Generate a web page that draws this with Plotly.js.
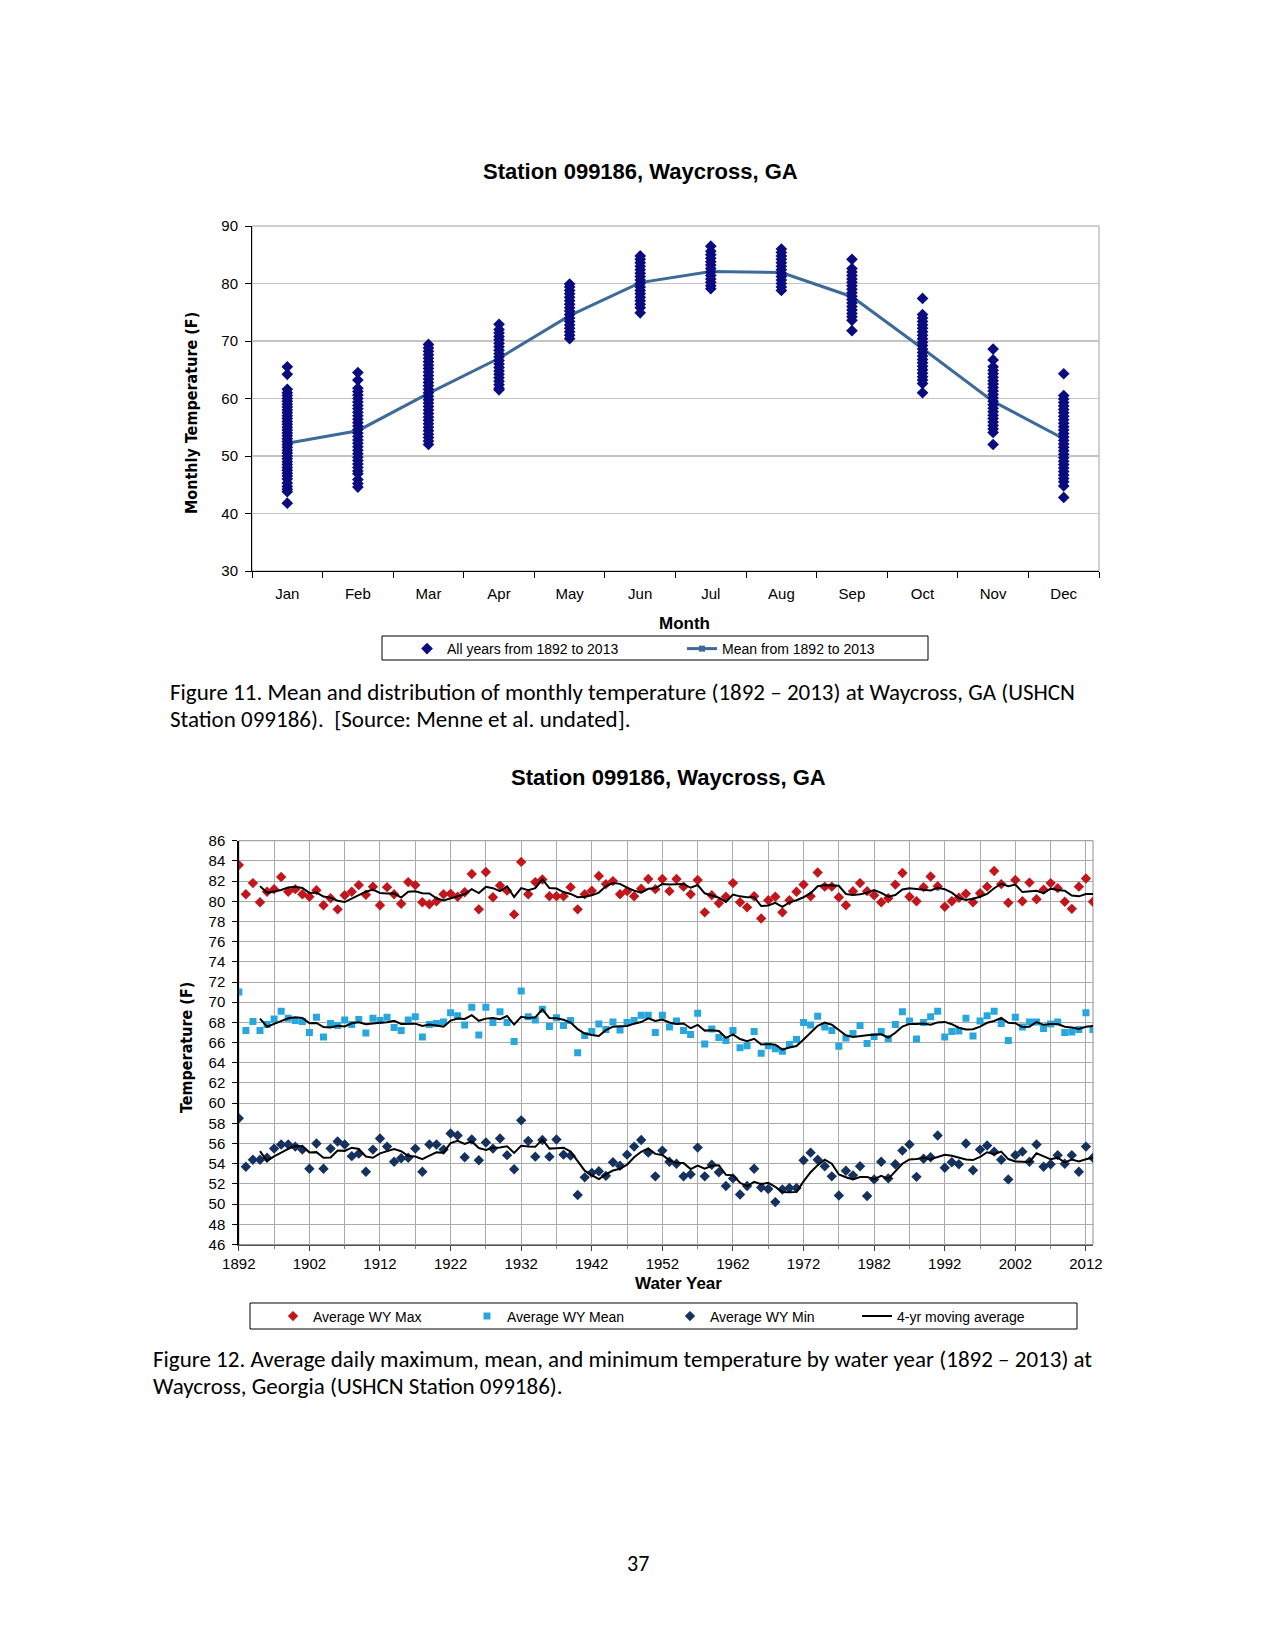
<!DOCTYPE html>
<html>
<head>
<meta charset="utf-8">
<script src="https://cdn.plot.ly/plotly-3.0.1.min.js"></script>
<style>
  html, body { margin:0; padding:0; background:#fff; }
  #page { width:1275px; height:1651px; }
</style>
</head>
<body>
<div id="page"></div>
<script>
// ---------------- Figure 11 data ----------------
const months = ["Jan","Feb","Mar","Apr","May","Jun","Jul","Aug","Sep","Oct","Nov","Dec"];
const monthlyMean = [52.2, 54.4, 60.9, 67.0, 74.4, 80.15, 82.1, 81.9, 77.7, 68.7, 59.5, 53.0];
const janVals = [65.5, 64.2, 61.6, 61.0, 60.5, 60.0, 59.5, 59.0, 58.5, 58.0, 57.5, 57.0, 56.5, 56.0, 55.5, 55.0, 54.5, 54.0, 53.5, 53.0, 52.5, 52.0, 51.5, 51.0, 50.5, 50.0, 49.5, 49.0, 48.5, 48.0, 47.5, 47.0, 46.5, 46.0, 45.3, 44.7, 44.2, 43.8, 41.8];
const febVals = [64.5, 63.2, 61.8, 61.2, 60.6, 60.0, 59.4, 58.8, 58.2, 57.6, 57.0, 56.4, 55.8, 55.2, 54.6, 54.0, 53.4, 52.8, 52.2, 51.6, 51.0, 50.4, 49.8, 49.2, 48.6, 48.0, 47.4, 46.9, 45.9, 45.2, 44.6];
const marVals = [69.4, 68.8, 68.2, 67.6, 67.0, 66.4, 65.8, 65.2, 64.6, 64.0, 63.4, 62.8, 62.2, 61.6, 61.0, 60.4, 59.8, 59.2, 58.6, 58.0, 57.4, 56.8, 56.2, 55.6, 55.0, 54.4, 53.8, 53.2, 52.6, 52.0];
const aprVals = [72.9, 72.0, 71.4, 70.8, 70.2, 69.6, 69.0, 68.4, 67.8, 67.2, 66.6, 66.0, 65.4, 64.8, 64.2, 63.6, 63.0, 62.4, 61.8, 61.5];
const mayVals = [79.9, 79.4, 78.8, 78.2, 77.6, 77.0, 76.4, 75.8, 75.2, 74.6, 74.0, 73.4, 72.8, 72.2, 71.6, 71.0, 70.4];
const junVals = [84.8, 84.2, 83.6, 83.0, 82.4, 81.8, 81.2, 80.6, 80.0, 79.4, 78.8, 78.2, 77.6, 77.0, 76.4, 75.8, 74.9];
const julVals = [86.5, 85.6, 85.0, 84.4, 83.8, 83.2, 82.6, 82.0, 81.4, 80.8, 80.2, 79.6, 79.1];
const augVals = [86.0, 85.4, 84.8, 84.2, 83.6, 83.0, 82.4, 81.8, 81.2, 80.6, 80.0, 79.4, 78.8];
const sepVals = [84.2, 82.6, 82.0, 81.4, 80.8, 80.2, 79.6, 79.0, 78.4, 77.8, 77.2, 76.6, 76.0, 75.4, 74.8, 74.2, 73.6, 71.8];
const octVals = [77.4, 74.6, 74.0, 73.4, 72.8, 72.2, 71.6, 71.0, 70.4, 69.8, 69.2, 68.6, 68.0, 67.4, 66.8, 66.2, 65.6, 65.0, 64.4, 63.8, 63.2, 62.6, 61.0];
const novVals = [68.6, 66.7, 65.5, 64.9, 64.3, 63.7, 63.1, 62.5, 61.9, 61.3, 60.7, 60.1, 59.5, 58.9, 58.3, 57.7, 57.1, 56.5, 55.9, 55.3, 54.7, 54.1, 52.0];
const decVals = [64.3, 60.5, 59.9, 59.3, 58.7, 58.1, 57.5, 56.9, 56.3, 55.7, 55.1, 54.5, 53.9, 53.3, 52.7, 52.1, 51.5, 50.9, 50.3, 49.7, 49.1, 48.5, 47.9, 47.3, 46.7, 46.1, 45.5, 44.8, 42.8];

// ---------------- Figure 12 data ----------------
const firstYear = 1892;
const wyMax = [
  83.6, 80.7, 81.8, 79.9, 80.95, 81.2, 82.4, 80.95, 81.2, 80.7,
  80.45, 81.1, 79.6, 80.3, 79.2, 80.6, 80.95, 81.6, 80.65, 81.45,
  79.6, 81.4, 80.7, 79.75, 81.9, 81.6, 79.9, 79.7, 80.0, 80.7,
  80.75, 80.45, 80.9, 82.7, 79.2, 82.9, 80.4, 81.55, 81.05, 78.7,
  83.9, 80.7, 81.9, 82.15, 80.5, 80.5, 80.5, 81.4, 79.2, 80.7,
  81.05, 82.5, 81.7, 82.0, 80.7, 81.0, 80.5, 81.25, 82.2, 81.2,
  82.2, 81.0, 82.2, 81.45, 80.7, 82.1, 78.9, 80.6, 79.8, 80.45,
  81.8, 79.9, 79.4, 80.5, 78.3, 80.1, 80.45, 78.9, 80.1, 80.95,
  81.65, 80.5, 82.85, 81.45, 81.45, 80.4, 79.6, 81.0, 81.8, 81.0,
  80.6, 79.9, 80.3, 81.65, 82.8, 80.45, 80.0, 81.4, 82.45, 81.5,
  79.45, 80.0, 80.35, 80.75, 79.9, 80.8, 81.45, 83.0, 81.7, 79.85,
  82.1, 80.0, 81.85, 80.2, 81.15, 81.8, 81.3, 79.95, 79.25, 81.45,
  82.25, 79.95];
const wyMean = [
  71.0, 67.2, 68.1, 67.2, 67.8, 68.35, 69.1, 68.4, 68.2, 68.1,
  67.0, 68.5, 66.55, 67.9, 67.7, 68.25, 67.8, 68.3, 66.95, 68.4,
  68.2, 68.5, 67.5, 67.2, 68.25, 68.55, 66.55, 67.8, 67.9, 68.05,
  68.95, 68.65, 67.75, 69.5, 66.75, 69.5, 68.0, 69.05, 68.0, 66.1,
  71.1, 68.55, 68.25, 69.3, 67.6, 68.45, 67.7, 68.2, 65.0, 66.7,
  67.1, 67.85, 67.3, 68.05, 67.25, 68.0, 68.2, 68.7, 68.7, 67.0,
  68.7, 67.55, 68.15, 67.2, 66.8, 68.9, 65.85, 67.35, 66.5, 66.2,
  67.2, 65.5, 65.7, 67.1, 64.95, 65.7, 65.4, 65.15, 65.8, 66.3,
  68.0, 67.75, 68.6, 67.55, 67.2, 65.65, 66.45, 66.9, 67.7, 65.9,
  66.6, 67.1, 66.4, 67.8, 69.05, 68.15, 66.35, 68.0, 68.55, 69.1,
  66.55, 67.1, 67.15, 68.4, 66.65, 68.15, 68.65, 69.1, 67.9, 66.2,
  68.5, 67.55, 68.05, 68.05, 67.4, 67.85, 68.05, 67.0, 67.05, 67.3,
  68.95, 67.3];
const wyMin = [
  58.5, 53.7, 54.4, 54.4, 54.6, 55.5, 55.9, 55.9, 55.7, 55.4,
  53.5, 56.0, 53.5, 55.5, 56.2, 55.9, 54.75, 55.0, 53.2, 55.4,
  56.5, 55.7, 54.2, 54.55, 54.6, 55.5, 53.2, 55.9, 55.9, 55.4,
  57.0, 56.8, 54.65, 56.4, 54.35, 56.1, 55.5, 56.5, 54.85, 53.45,
  58.3, 56.25, 54.7, 56.35, 54.7, 56.4, 54.9, 54.8, 50.9, 52.65,
  53.1, 53.25, 52.8, 54.15, 53.8, 54.9, 55.7, 56.35, 55.1, 52.75,
  55.3, 54.2, 54.0, 52.75, 52.95, 55.6, 52.75, 53.9, 53.15, 51.8,
  52.55, 50.95, 51.8, 53.5, 51.65, 51.5, 50.2, 51.45, 51.6, 51.6,
  54.35, 55.1, 54.4, 53.75, 52.75, 50.85, 53.3, 52.85, 53.75, 50.8,
  52.45, 54.2, 52.55, 53.95, 55.3, 55.9, 52.7, 54.5, 54.65, 56.8,
  53.6, 54.15, 53.95, 56.0, 53.35, 55.4, 55.8, 55.2, 54.4, 52.45,
  54.85, 55.2, 54.2, 55.9, 53.7, 53.95, 54.85, 54.0, 54.85, 53.2,
  55.7, 54.6];

// ---------------- derived (as the chart itself does) ----------------
const years = wyMax.map((_, i) => firstYear + i);
function movingAvg(arr, n) {
  const xs = [], ys = [];
  for (let i = n - 1; i < arr.length; i++) {
    let s = 0;
    for (let k = 0; k < n; k++) s += arr[i - k];
    xs.push(years[i]); ys.push(s / n);
  }
  return {x: xs, y: ys};
}
const monthVals = [janVals, febVals, marVals, aprVals, mayVals, junVals, julVals, augVals, sepVals, octVals, novVals, decVals];
const allX = [], allY = [];
monthVals.forEach((vals, m) => vals.forEach(v => { allX.push(months[m]); allY.push(v); }));

// ---------------- page geometry ----------------
const W = 1275, H = 1651;
const PX = x => x / W, PY = y => 1 - y / H;
const ARIAL = "Liberation Sans, Arial, sans-serif";
const NARROW = "Liberation Sans Narrow, DejaVu Sans Condensed, Arial Narrow, sans-serif";
const BODY = "Carlito, Lato, Calibri, sans-serif";

const navy = "#0b0b80";
const meanLine = "#3d6a99";
const red = "#c0161c";
const lblue = "#27a7de";
const dblue = "#15325f";

const traces = [
  {x: months, y: monthlyMean, mode: "lines+markers", name: "Mean from 1892 to 2013",
   line: {color: meanLine, width: 3}, marker: {symbol: "square", size: 6, color: meanLine},
   xaxis: "x", yaxis: "y", legend: "legend", legendrank: 2, hoverinfo: "skip"},
  {x: allX, y: allY, mode: "markers", name: "All years from 1892 to 2013",
   marker: {symbol: "diamond", size: 9, color: navy},
   xaxis: "x", yaxis: "y", legend: "legend", legendrank: 1, hoverinfo: "skip"}
];

const maMax = movingAvg(wyMax, 4), maMean = movingAvg(wyMean, 4), maMin = movingAvg(wyMin, 4);
traces.push(
  {x: years, y: wyMax, mode: "markers", name: "Average WY Max",
   marker: {symbol: "diamond", size: 8, color: red}, xaxis: "x2", yaxis: "y2", legend: "legend2"},
  {x: years, y: wyMean, mode: "markers", name: "Average WY Mean",
   marker: {symbol: "square", size: 7, color: lblue}, xaxis: "x2", yaxis: "y2", legend: "legend3"},
  {x: years, y: wyMin, mode: "markers", name: "Average WY Min",
   marker: {symbol: "diamond", size: 8, color: dblue}, xaxis: "x2", yaxis: "y2", legend: "legend4"},
  {x: maMax.x, y: maMax.y, mode: "lines", name: "4-yr moving average", line: {color: "#000", width: 2},
   xaxis: "x2", yaxis: "y2", legend: "legend5"},
  {x: maMean.x, y: maMean.y, mode: "lines", name: "4-yr moving average", line: {color: "#000", width: 2},
   xaxis: "x2", yaxis: "y2", showlegend: false},
  {x: maMin.x, y: maMin.y, mode: "lines", name: "4-yr moving average", line: {color: "#000", width: 2},
   xaxis: "x2", yaxis: "y2", showlegend: false}
);

function ann(text, x, y, opts) {
  return Object.assign({text: text, x: PX(x), y: PY(y), xref: "paper", yref: "paper",
    showarrow: false, xanchor: "center", yanchor: "middle",
    font: {family: ARIAL, size: 15, color: "#000"}}, opts || {});
}
function box(x0, y0, x1, y1, color, layer) {
  return {type: "rect", xref: "paper", yref: "paper", x0: PX(x0), x1: PX(x1), y0: PY(y1), y1: PY(y0),
    line: {color: color, width: 1}, layer: layer || "below"};
}
function leg(x, y, extra) {
  return Object.assign({x: PX(x), y: PY(y), xanchor: "left", yanchor: "top", orientation: "h",
    borderwidth: 0, bgcolor: "rgba(0,0,0,0)",
    font: {family: ARIAL, size: 14, color: "#000"}, traceorder: "normal"}, extra || {});
}

const layout = {
  width: W, height: H,
  margin: {l: 0, r: 0, t: 0, b: 0, pad: 0},
  paper_bgcolor: "#fff", plot_bgcolor: "#fff",
  font: {family: ARIAL, color: "#000"},
  xaxis: {domain: [PX(252), PX(1099)], anchor: "y", type: "category",
    categoryorder: "array", categoryarray: months, range: [-0.5, 11.5],
    tickson: "boundaries", ticks: "outside", ticklen: 6, tickcolor: "#000", ticklabelstandoff: 9,
    showline: true, linecolor: "#000", linewidth: 1, showgrid: false, zeroline: false,
    tickfont: {family: ARIAL, size: 15, color: "#000"}, fixedrange: true},
  yaxis: {domain: [PY(571), PY(226)], anchor: "x", range: [30, 90], tick0: 30, dtick: 10,
    ticks: "outside", ticklen: 6, tickcolor: "#000", ticklabelstandoff: 4, showline: true, linecolor: "#000",
    showgrid: true, gridcolor: "#c4c4c4", gridwidth: 1.5, zeroline: false,
    tickfont: {family: ARIAL, size: 15, color: "#000"}, fixedrange: true},
  xaxis2: {domain: [PX(238.8), PX(1093)], anchor: "y2", range: [1892, 2013], tick0: 1892, dtick: 10,
    ticks: "outside", ticklen: 5, tickcolor: "#444",
    showline: true, linecolor: "#555", linewidth: 1.5, showgrid: true, gridcolor: "#aaaaaa", zeroline: false,
    minor: {tick0: 1892, dtick: 5, showgrid: true, gridcolor: "#aaaaaa", ticks: "outside", ticklen: 3, tickcolor: "#888"},
    tickfont: {family: ARIAL, size: 15, color: "#000"}, fixedrange: true},
  yaxis2: {domain: [PY(1244.5), PY(840.7)], anchor: "x2", range: [46, 86], tick0: 46, dtick: 2,
    ticks: "outside", ticklen: 5, tickcolor: "#000", ticklabelstandoff: 4, showline: true, linecolor: "#000", linewidth: 1.5,
    showgrid: true, gridcolor: "#aaaaaa", zeroline: false,
    tickfont: {family: ARIAL, size: 15, color: "#000"}, fixedrange: true},
  shapes: [
    box(252, 226, 1099, 571, "#a0a0a0"),
    box(238.8, 840.7, 1093, 1244.5, "#909090"),
    box(382, 636, 928, 660, "#000"),
    box(250, 1303, 1077, 1329, "#000")
  ],
  legend: leg(407, 633, {entrywidth: 230}),
  legend2: leg(273, 1300.5),
  legend3: leg(467, 1300.5),
  legend4: leg(670, 1300.5),
  legend5: leg(857, 1300.5),
  annotations: [
    ann("<b>Station 099186, Waycross, GA</b>", 640, 171, {font: {family: ARIAL, size: 22, color: "#000"}}),
    ann("<b>Monthly Temperature (F)</b>", 192, 413, {textangle: -90, font: {family: NARROW, size: 16, color: "#000"}}),
    ann("<b>Month</b>", 684, 623, {font: {family: ARIAL, size: 17, color: "#000"}}),
    ann("Figure 11. Mean and distribution of monthly temperature (1892 \u2013 2013) at Waycross, GA (USHCN", 168, 692,
        {xanchor: "left", font: {family: BODY, size: 23, color: "#000"}}),
    ann("Station 099186).  [Source: Menne et al. undated].", 168, 719,
        {xanchor: "left", font: {family: BODY, size: 23, color: "#000"}}),
    ann("<b>Station 099186, Waycross, GA</b>", 668, 777, {font: {family: ARIAL, size: 22, color: "#000"}}),
    ann("<b>Temperature (F)</b>", 186, 1048, {textangle: -90, font: {family: NARROW, size: 16, color: "#000"}}),
    ann("<b>Water Year</b>", 678, 1283, {font: {family: ARIAL, size: 17, color: "#000"}}),
    ann("Figure 12. Average daily maximum, mean, and minimum temperature by water year (1892 \u2013 2013) at", 151, 1359,
        {xanchor: "left", font: {family: BODY, size: 23, color: "#000"}}),
    ann("Waycross, Georgia (USHCN Station 099186).", 151, 1386,
        {xanchor: "left", font: {family: BODY, size: 23, color: "#000"}}),
    ann("37", 638, 1563, {font: {family: BODY, size: 22, color: "#000"}})
  ]
};

Plotly.newPlot("page", traces, layout, {staticPlot: true, displayModeBar: false});
</script>
</body>
</html>
